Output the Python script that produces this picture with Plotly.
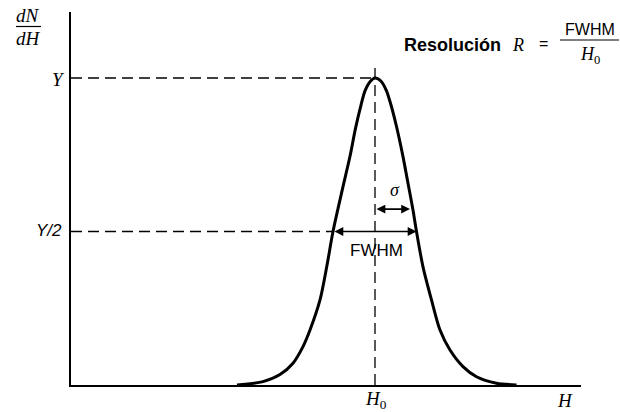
import plotly.graph_objects as go

# Gaussian peak of a pulse-height spectrum (H in channel units, dN/dH normalised to Y = 1)
h_values = [166, 192, 209, 222, 232, 239, 249, 256, 262, 272, 279, 284.5, 290, 294, 299, 304,
            310.5, 315.5, 320, 325.5, 332, 337, 342, 345.5, 352, 360.5, 369, 379, 392, 405.5,
            425.5, 445.5]
dn_dh = [0, 0.011, 0.034, 0.071, 0.125, 0.179, 0.277, 0.39, 0.5, 0.646, 0.745, 0.836, 0.912,
         0.958, 0.988, 1.0, 0.988, 0.958, 0.912, 0.842, 0.744, 0.657, 0.57, 0.5, 0.385, 0.277,
         0.179, 0.114, 0.06, 0.027, 0.006, 0]

h0 = 304            # peak centroid H0
y_peak = 1.0        # peak height Y
y_half = 0.5        # half maximum Y/2
fwhm_left = 262     # left half-maximum crossing
fwhm_right = 345.5  # right half-maximum crossing
sigma_end = 339     # H0 + sigma
y_sigma = 0.573     # height of the sigma marker

X_RANGE = [0, 510]
Y_RANGE = [0, 1.215]

# plot area in pixels
L, R, T, B = 71, 39, 12, 27
W, H = 620, 412
PW, PH = W - L - R, H - T - B


def px(x):
    return (x - L) / PW


def py(y):
    return (H - B - y) / PH


SERIF = "Liberation Serif"
SANS = "Liberation Sans"
DASH = "11px,6px"

fig = go.Figure()

# guide lines (dashed)
fig.add_trace(go.Scatter(x=[0, h0], y=[y_peak, y_peak], mode="lines",
                         line=dict(color="black", width=1.3, dash=DASH), hoverinfo="skip"))
fig.add_trace(go.Scatter(x=[0, fwhm_left], y=[y_half, y_half], mode="lines",
                         line=dict(color="black", width=1.3, dash=DASH), hoverinfo="skip"))
fig.add_trace(go.Scatter(x=[h0, h0], y=[0, 1.05], mode="lines",
                         line=dict(color="black", width=1.3, dash=DASH), hoverinfo="skip"))

# spectrum curve
fig.add_trace(go.Scatter(x=h_values, y=dn_dh, mode="lines",
                         line=dict(color="black", width=3, shape="spline", smoothing=0.8),
                         hoverinfo="skip"))

annotations = []

# FWHM and sigma double arrows
for x0, x1, y in [(fwhm_left, fwhm_right, y_half), (h0, sigma_end, y_sigma)]:
    annotations.append(dict(x=x1, y=y, ax=x0, ay=y, xref="x", yref="y", axref="x", ayref="y",
                            text="", showarrow=True, arrowhead=2, arrowsize=1.1, arrowwidth=1.6,
                            arrowside="end+start", arrowcolor="black", standoff=0, startstandoff=0))


def label(text, x, y, size, family, **kw):
    annotations.append(dict(text=text, x=px(x), y=py(y), xref="paper", yref="paper",
                            showarrow=False, xanchor="center", yanchor="middle",
                            font=dict(size=size, family=family, color="black"), **kw))


label("FWHM", 376, 250, 17, SANS)
label("<i>σ</i>", 395, 190, 18, SERIF)

# axis labels
label("<i>Y</i>", 58, 79, 19, SERIF)
label("<i>Y/2</i>", 49, 231, 17, SANS)
label("<i>H</i><sub>0</sub>", 376, 400, 19, SERIF)
label("<i>H</i>", 565, 400, 19, SERIF)
label("<i>dN</i>", 28, 15, 19, SERIF)
label("<i>dH</i>", 28, 38, 19, SERIF)

# resolution formula
label("<b>Resolución</b>", 452, 45, 18, SANS)
label("<i>R</i>", 518, 45, 18, SERIF)
label("=", 543, 44, 16, SANS)
label("FWHM", 590, 29, 16, SANS)
label("<i>H</i><sub>0</sub>", 590, 56, 18, SERIF)

shapes = [
    dict(type="line", xref="paper", yref="paper", x0=px(16), x1=px(41), y0=py(26.5), y1=py(26.5),
         line=dict(color="black", width=1.2)),
    dict(type="line", xref="paper", yref="paper", x0=px(560), x1=px(619), y0=py(40), y1=py(40),
         line=dict(color="black", width=1.2)),
]

fig.update_layout(
    width=W, height=H,
    margin=dict(l=L, r=R, t=T, b=B),
    paper_bgcolor="white", plot_bgcolor="white",
    showlegend=False,
    annotations=annotations,
    shapes=shapes,
    xaxis=dict(range=X_RANGE, showline=True, linecolor="black", linewidth=2,
               showgrid=False, zeroline=False, showticklabels=False, ticks=""),
    yaxis=dict(range=Y_RANGE, showline=True, linecolor="black", linewidth=2,
               showgrid=False, zeroline=False, showticklabels=False, ticks=""),
)

fig.write_html("out.html")
